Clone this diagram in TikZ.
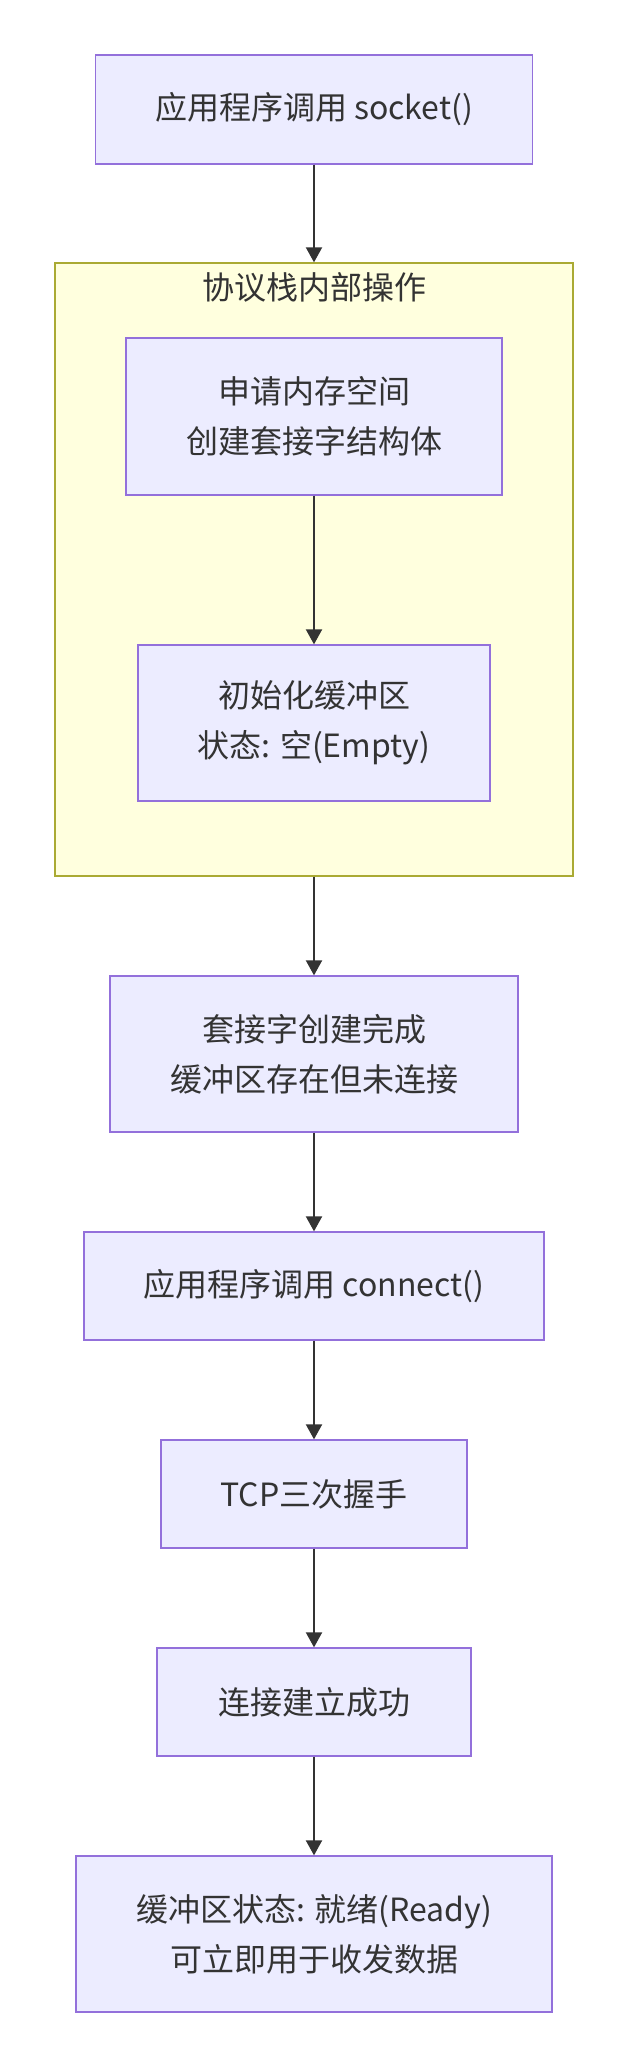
\documentclass[tikz,border=0pt]{standalone}
\usepackage{fontspec}
\setmainfont{Noto Sans CJK SC}
\usetikzlibrary{arrows.meta}
\definecolor{nodefill}{HTML}{ECECFF}
\definecolor{nodeline}{HTML}{9370DB}
\definecolor{clfill}{HTML}{FFFFDE}
\definecolor{clline}{HTML}{AAAA33}
\definecolor{txt}{HTML}{333333}
\tikzset{
  box/.style={draw=nodeline, fill=nodefill, line width=1.3pt, inner sep=0pt,
    align=center, text=txt, font=\fontsize{32}{50}\selectfont},
  cluster/.style={draw=clline, fill=clfill, line width=1.3pt, inner sep=0pt},
  cltitle/.style={text=txt, font=\fontsize{32}{50}\selectfont, inner sep=0pt},
  flow/.style={draw=txt, line width=2pt, -{Triangle[length=15pt,width=16pt]}}
}
\begin{document}
\begin{tikzpicture}[x=1pt,y=-1pt]
\useasboundingbox (0,0) rectangle (628,2068);
\node[cluster, minimum width=518pt, minimum height=613pt] (cl) at (314,569.5) {};
\node[cltitle] (clt) at (314,287) {协议栈内部操作};
\node[box, minimum width=437pt, minimum height=109pt] (n1) at (314,109.5) {应用程序调用 socket()};
\node[box, minimum width=376pt, minimum height=157pt] (n2) at (314,416.5) {申请内存空间\\创建套接字结构体};
\node[box, minimum width=352pt, minimum height=156pt] (n3) at (314,723) {初始化缓冲区\\状态: 空(Empty)};
\node[box, minimum width=408pt, minimum height=156pt] (n4) at (314,1054) {套接字创建完成\\缓冲区存在但未连接};
\node[box, minimum width=460pt, minimum height=108pt] (n5) at (314,1286) {应用程序调用 connect()};
\node[box, minimum width=306pt, minimum height=108pt] (n6) at (314,1494) {TCP三次握手};
\node[box, minimum width=314pt, minimum height=108pt] (n7) at (314,1702) {连接建立成功};
\node[box, minimum width=476pt, minimum height=156pt] (n8) at (314,1934) {缓冲区状态: 就绪(Ready)\\可立即用于收发数据};
\draw[flow] (n1) -- (cl);
\draw[flow] (n2) -- (n3);
\draw[flow] (cl) -- (n4);
\draw[flow] (n4) -- (n5);
\draw[flow] (n5) -- (n6);
\draw[flow] (n6) -- (n7);
\draw[flow] (n7) -- (n8);
\end{tikzpicture}
\end{document}
